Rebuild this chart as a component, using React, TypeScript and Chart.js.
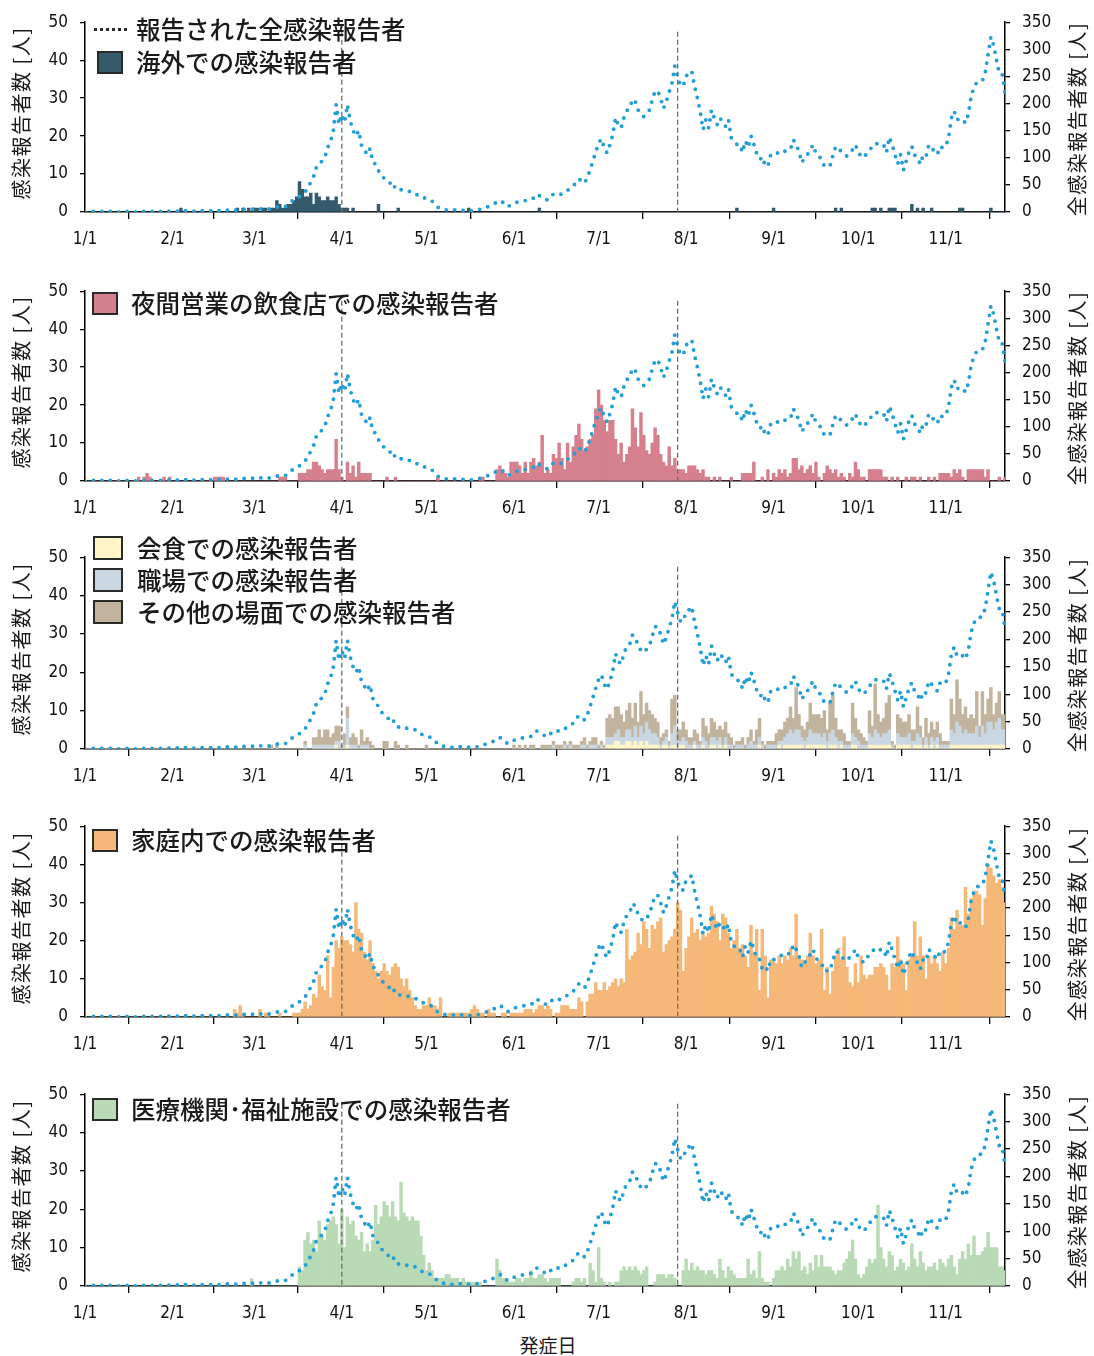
import React, { useEffect, useRef } from "react";
import { Chart, registerables } from "chart.js";
Chart.register(...registerables);

// ---- categories: day index counted from 1/1 (2020), 1/1 .. 11/22
const dayIndex: number[] = Array.from({ length: 327 }, (_, i) => i);
const monthStarts = [0, 31, 60, 91, 121, 152, 182, 213, 244, 274, 305];
const monthLabels = ["1/1", "2/1", "3/1", "4/1", "5/1", "6/1", "7/1", "8/1", "9/1", "10/1", "11/1"];
const markerDays = [91, 210];

// ---- all reported cases (right axis)
const total = [
  0,0,0,1,0,0,1,0,0,1, 0,1,0,0,1,1,2,1,0,1, 2,1,1,2,1,2,1,1,2,2, 1,
  2,1,2,2,1,3,2,2,1,2, 3,2,2,3,2,3,3,2,3,4, 3,4,3,4,4,5,4,4,5,
  5,4,6,5,6,5,7,8,9,10, 11,10,14,19,22,25,28,33,37,45, 55,65,83,86,95,101,119,130,150,198, 162,
  180,165,198,168,150,140,150,122,115,106, 117,92,88,76,68,62,58,53,56,42, 40,41,40,38,38,36,35,30,27,26,
  25,22,20,15,9,6,5,4,4,3, 4,3,4,3,4,3,2,3,4,5, 7,9,10,12,15,19,21,18,12,10, 14,
  16,18,19,20,21,22,23,26,33,30, 27,24,22,28,33,34,32,33,37,40, 44,47,55,61,57,53,63,78,94,111,
  127,135,118,109,124,142,174,160,155,175, 187,191,208,204,188,180,176,182,188,206, 223,223,209,191,204,221,238,269,249,233, 233,
  251,254,260,232,210,185,152,170,155,188, 173,161,173,167,158,170,137,130,125,125, 110,131,119,140,125,108,107,88,93,85, 106,
  105,108,110,114,112,116,116,133,124,112, 91,100,106,115,124,108,103,98,84,85, 85,104,121,118,111,106,103,110,115,124,
  109,104,100,108,115,120,127,125,123,124, 110,138,124,106,89,106,77,94,111,121, 105,100,88,105,102,124,118,112,106,121, 118,
  121,137,173,186,170,173,170,164,180,213, 230,239,240,242,257,290,323,307,280,255, 254,220,
];

const overseas = [
  0,0,0,0,0,0,0,0,0,0, 0,0,0,0,0,0,0,0,0,0, 0,0,0,0,0,0,0,0,0,0, 0,
  0,0,0,1,0,0,0,0,0,0, 0,0,0,0,0,0,0,0,0,0, 0,0,0,1,0,1,0,1,0,
  1,1,0,1,1,0,1,1,3,2, 1,1,2,2,3,4,8,6,4,4, 5,2,5,4,3,3,4,3,3,4, 2,
  1,1,1,0,1,0,0,0,0,0, 0,0,0,2,0,0,0,0,0,0, 1,0,0,0,0,0,0,0,0,0,
  0,0,0,0,0,0,0,0,0,0, 0,0,0,0,0,1,0,0,0,0, 0,0,0,0,0,0,0,0,0,0, 0,
  0,0,0,0,0,0,0,0,0,1, 0,0,0,0,0,0,0,0,0,0, 0,0,0,0,0,0,0,0,0,0,
  0,0,0,0,0,0,0,0,0,0, 0,0,0,0,0,0,0,0,0,0, 0,0,0,0,0,0,0,0,0,0, 0,
  0,0,0,0,0,0,0,0,0,0, 0,0,0,0,0,0,0,0,1,0, 0,0,0,0,0,0,0,0,0,0, 0,
  1,0,0,0,0,0,0,0,0,0, 0,0,0,0,0,0,0,0,0,0, 0,0,1,0,1,0,0,0,0,0,
  0,0,0,0,0,1,1,0,1,0, 0,1,1,1,0,0,0,0,0,2, 0,1,0,1,0,0,1,0,0,0, 0,
  0,0,0,0,0,1,1,0,0,0, 0,0,0,0,0,0,1,0,0,0, 0,0,
];

const nightlife = [
  0,0,0,0,0,0,0,0,0,0, 0,0,0,0,0,0,0,0,0,1, 0,1,2,1,0,0,0,0,1,0, 1,
  0,0,0,0,0,0,0,0,0,0, 0,0,0,0,0,1,1,1,1,0, 0,0,0,0,0,0,0,0,0,
  0,0,0,0,0,0,0,0,0,1, 1,1,0,0,0,0,2,2,2,3, 3,5,5,4,3,2,3,3,3,11, 3,
  1,0,5,2,4,1,5,2,2,2, 2,0,0,0,0,0,1,0,0,1, 0,0,0,0,0,0,0,0,0,0,
  0,0,0,0,1,0,0,0,0,0, 0,0,0,0,0,0,0,0,0,1, 1,0,0,0,0,3,4,3,2,1, 5,
  5,5,4,2,5,2,5,6,4,5, 12,2,3,2,7,6,10,6,3,10, 5,9,12,15,11,8,9,11,12,19,
  24,20,16,13,16,16,11,7,10,5, 7,9,19,14,9,18,12,8,7,10, 14,12,7,5,4,9,4,6,3,3, 3,
  2,4,4,4,3,2,3,1,1,0, 1,0,1,0,0,0,1,0,0,0, 2,2,2,2,5,0,0,1,0,3, 0,
  2,1,3,2,3,1,2,6,6,3, 4,2,3,4,2,5,1,0,2,4, 3,2,3,1,2,1,0,2,1,5,
  3,1,1,0,3,3,3,3,3,1, 1,0,1,0,1,0,0,1,0,1, 1,0,1,0,0,1,0,1,0,2, 2,
  2,2,1,3,2,3,1,0,3,3, 3,3,3,3,1,3,0,0,0,1, 0,1,
];

const dining = [
  0,0,0,0,0,0,0,0,0,0, 0,0,0,0,0,0,0,0,0,0, 0,0,0,0,0,0,0,0,0,0, 0,
  0,0,0,0,0,0,0,0,0,0, 0,0,0,0,0,0,0,0,0,0, 0,0,0,0,0,0,0,0,0,
  0,0,0,0,0,0,0,0,0,0, 0,0,0,0,0,0,0,0,0,0, 0,0,0,0,0,0,0,0,0,1, 0,
  0,0,1,0,0,0,0,0,0,0, 0,0,0,0,0,0,0,0,0,0, 0,0,0,0,0,0,0,0,0,0,
  0,0,0,0,0,0,0,0,0,0, 0,0,0,0,0,0,0,0,0,0, 0,0,0,0,0,0,0,0,0,0, 0,
  0,0,0,0,0,0,0,0,0,0, 0,0,0,0,0,0,0,0,0,0, 0,0,0,0,0,0,0,0,0,0,
  0,0,0,1,1,1,2,2,1,1, 2,2,1,2,1,2,1,2,1,1, 1,1,0,1,1,0,1,1,0,1, 1,
  0,0,0,1,0,0,1,0,0,1, 1,0,1,0,1,0,0,0,0,0, 0,0,0,0,0,0,1,0,0,0, 0,
  0,0,1,0,1,1,1,1,1,1, 1,0,1,1,1,1,1,1,1,0, 1,1,1,0,1,0,0,0,1,1,
  0,0,0,0,1,1,1,1,1,1, 1,1,0,0,1,1,1,1,1,0, 1,1,1,0,1,0,1,0,1,0, 0,
  0,0,1,1,1,1,1,1,1,1, 1,1,1,1,1,1,1,1,1,1, 1,1,
];

const workplace = [
  0,0,0,0,0,0,0,0,0,0, 0,0,0,0,0,0,0,0,0,0, 0,0,0,0,0,0,0,0,0,0, 0,
  0,0,0,0,0,0,0,0,0,0, 0,0,0,0,0,0,0,0,0,0, 0,0,0,0,0,0,0,0,0,
  0,0,0,0,0,0,0,0,0,0, 0,0,0,0,0,0,0,0,1,0, 0,1,1,1,1,1,1,1,1,1, 2,
  0,1,7,1,1,1,0,1,1,1, 0,0,0,0,0,0,0,0,0,0, 0,0,0,0,0,0,0,0,0,0,
  0,0,0,0,0,0,0,0,0,0, 0,0,0,0,0,0,0,0,0,0, 0,0,0,0,0,0,0,0,0,0, 0,
  0,0,0,0,0,0,0,0,0,0, 0,0,0,0,1,0,0,0,1,0, 1,0,0,0,1,1,0,1,1,1,
  0,1,0,2,2,2,2,3,2,2, 3,3,2,4,2,4,3,5,4,3, 3,2,1,1,2,1,3,5,2,1, 2,
  2,1,1,1,1,1,2,2,1,2, 2,2,2,1,2,1,1,0,1,1, 1,0,1,2,1,1,2,1,0,1, 1,
  1,1,1,2,2,3,4,3,4,4, 2,2,2,4,3,3,3,2,3,2, 3,4,2,2,1,1,1,1,3,2,
  2,1,1,1,3,2,4,3,2,3, 3,4,1,0,3,2,2,2,3,2, 1,3,2,1,2,1,2,2,2,1, 1,
  1,1,4,3,6,5,3,4,3,3, 3,5,2,5,3,6,6,4,6,7, 4,4,
];

const otherPlaces = [
  0,0,0,0,0,0,0,0,0,0, 0,0,0,0,0,0,0,0,0,0, 0,0,0,0,0,0,0,0,0,0, 0,
  0,0,0,0,0,0,0,0,0,0, 0,0,0,0,0,0,0,0,0,0, 0,0,0,0,0,0,0,0,0,
  0,0,0,0,0,0,1,0,1,0, 0,0,0,0,0,0,0,0,1,0, 0,2,2,4,2,4,4,2,3,4, 4,
  1,3,3,2,3,2,1,4,1,2, 2,1,0,0,0,2,2,0,0,2, 1,0,0,1,0,0,0,0,0,0,
  1,0,0,0,0,0,0,0,0,0, 0,0,0,0,0,0,0,0,0,0, 0,0,0,0,0,0,0,0,0,0, 0,
  1,0,1,0,1,0,1,1,0,0, 1,1,1,1,1,1,1,1,1,1, 1,1,1,1,1,2,1,1,2,2,
  1,1,1,5,6,5,7,6,6,4, 5,7,5,6,4,9,5,5,5,5, 4,4,2,2,2,1,9,8,3,3, 4,
  3,2,2,3,3,1,5,4,3,5, 4,3,3,4,4,3,2,1,1,1, 2,1,2,3,1,4,5,1,1,1, 1,
  1,3,3,3,4,4,6,4,11,4, 3,3,4,7,5,5,5,5,6,3, 8,9,5,3,3,3,1,1,8,5,
  3,3,2,1,6,3,12,5,4,4, 8,9,1,1,5,5,4,4,5,3, 3,7,3,2,5,3,4,3,4,3, 1,
  1,1,8,5,11,7,5,6,4,5, 4,9,3,9,5,6,9,4,5,7, 4,4,
];

const household = [
  0,0,0,0,0,0,0,0,0,0, 0,0,0,0,0,0,0,0,0,0, 0,0,0,0,0,0,0,0,0,0, 0,
  0,0,0,0,0,0,0,0,0,0, 0,0,0,0,0,0,0,0,0,0, 0,0,2,1,3,1,0,0,0,
  0,0,2,0,1,1,0,0,0,1, 0,0,0,0,1,1,1,2,4,2, 3,6,5,11,8,7,16,5,13,20, 18,
  21,20,20,19,17,30,23,22,17,15, 20,14,12,10,12,14,12,11,13,14, 13,10,8,10,7,5,3,2,2,3,
  3,5,3,3,2,5,0,0,1,1, 1,1,1,1,1,1,2,3,2,1, 1,0,2,1,1,0,0,1,1,0, 1,
  1,1,1,1,2,2,2,1,2,3, 3,2,3,2,0,1,1,3,3,3, 2,2,2,5,4,0,4,6,6,9,
  7,7,9,7,8,9,10,8,10,9, 23,15,16,17,22,19,25,23,18,24, 23,25,26,17,19,20,21,23,30,28, 12,
  18,21,26,22,23,20,22,21,22,29, 27,25,20,27,26,22,18,20,23,18, 19,16,13,24,17,23,7,23,16,5, 15,
  15,14,16,14,16,15,18,16,27,16, 15,14,16,22,16,14,15,23,7,13, 6,12,16,18,15,21,13,9,8,14,
  9,16,11,10,11,11,13,13,14,13, 11,7,14,13,21,15,14,7,15,16, 25,16,21,16,10,16,14,16,14,12, 17,
  14,18,26,23,28,24,24,34,27,31, 33,33,32,24,31,40,39,37,35,36, 34,30,
];

const medical = [
  0,0,0,0,0,0,0,0,0,0, 0,0,0,0,0,0,0,0,0,0, 0,0,0,0,0,0,0,0,0,0, 0,
  0,0,0,0,0,0,0,0,0,0, 0,0,0,0,0,0,0,0,0,0, 0,0,0,0,0,0,0,0,2,
  0,0,0,0,0,0,0,0,0,0, 0,0,0,0,0,0,5,4,12,14, 11,12,9,17,13,12,16,17,18,16, 11,
  20,10,18,16,17,13,12,14,9,11, 9,12,21,16,18,22,21,18,22,18, 17,27,19,18,17,18,17,17,13,8,
  4,6,4,2,2,2,2,3,3,2, 2,2,1,2,1,1,1,1,1,1, 0,0,0,0,0,7,4,2,2,1, 1,
  1,2,2,1,2,2,4,2,2,3, 3,2,1,2,2,2,2,0,0,0, 0,1,2,2,1,2,0,6,4,1,
  10,2,1,0,1,0,1,1,4,5, 4,5,4,5,4,3,4,5,0,0, 1,3,3,3,2,3,3,2,0,0, 4,
  7,4,6,4,5,4,4,3,4,4, 3,2,7,4,2,5,4,3,2,2, 2,2,7,3,4,2,9,2,1,1, 0,
  2,4,4,5,4,7,5,9,7,9, 4,5,3,6,4,8,5,8,5,5, 5,4,3,4,4,6,7,9,12,7,
  3,2,3,5,7,6,7,21,10,7, 5,9,8,4,5,7,6,4,5,11, 7,5,9,6,4,5,5,6,4,7, 6,
  5,7,8,5,3,7,9,7,11,8, 13,8,8,9,10,14,10,10,10,5, 5,4,
];

const JP = "'Noto Sans CJK JP', 'Noto Sans', sans-serif";
const NUM = "'Liberation Sans Narrow', 'Arial Narrow', 'DejaVu Sans Condensed', 'Liberation Sans', sans-serif";
const LINE_BLUE = "#249fd6";
const C_OVERSEAS = "#345a6b";
const C_NIGHT = "#d7808d";
const C_DINING = "#fff5c8";
const C_WORK = "#c9d7e3";
const C_OTHER = "#c2b39d";
const C_HOME = "#f6b878";
const C_MED = "#b8dab4";

type BarSeries = { data: number[]; color: string };

const markerPlugin = {
  id: "markers",
  afterDatasetsDraw(chart: any) {
    const { ctx, chartArea, scales } = chart;
    ctx.save();
    ctx.strokeStyle = "#6e6e6e";
    ctx.lineWidth = 1.3;
    ctx.setLineDash([5, 3]);
    markerDays.forEach((d) => {
      const x = scales.x.getPixelForValue(d);
      ctx.beginPath();
      ctx.moveTo(x, scales.y.getPixelForValue(47.5));
      ctx.lineTo(x, chartArea.bottom);
      ctx.stroke();
    });
    ctx.restore();
  },
};

function Panel({ top, plotH, bars }: { top: number; plotH: number; bars: BarSeries[] }) {
  const ref = useRef<HTMLCanvasElement>(null);
  const H = 18 + plotH + 45;
  useEffect(() => {
    const tickFont = { family: NUM, size: 17 };
    const chart = new Chart(ref.current as HTMLCanvasElement, {
      type: "bar",
      data: {
        labels: dayIndex,
        datasets: [
          {
            type: "line",
            data: total,
            yAxisID: "y1",
            borderColor: LINE_BLUE,
            borderWidth: 3.9,
            borderDash: [0, 8.5],
            borderCapStyle: "round",
            borderJoinStyle: "round",
            pointRadius: 0,
            fill: false,
            tension: 0,
            order: 0,
          } as any,
          ...bars.map((b) => ({
            type: "bar",
            data: b.data,
            yAxisID: "y",
            backgroundColor: b.color,
            borderWidth: 0,
            barPercentage: 1,
            categoryPercentage: 1,
            order: 1,
          })),
        ],
      },
      options: {
        responsive: false,
        animation: false,
        events: [],
        layout: { padding: { top: 18, left: 0, right: 0, bottom: 0 } },
        plugins: { legend: { display: false }, tooltip: { enabled: false } },
        scales: {
          x: {
            type: "linear",
            min: 0,
            max: 326,
            stacked: true,
            offset: false,
            grid: { drawOnChartArea: false, drawTicks: true, tickLength: 7, color: "#000", lineWidth: 1.3 },
            border: { display: true, color: "#000", width: 1.5 },
            ticks: {
              autoSkip: false,
              maxRotation: 0,
              padding: 10,
              color: "#111",
              font: tickFont,
              callback: (v: any) => {
                const i = monthStarts.indexOf(Number(v));
                return i >= 0 ? monthLabels[i] : "";
              },
            },
            afterBuildTicks: (s: any) => {
              s.ticks = monthStarts.map((v) => ({ value: v }));
            },
            afterFit: (s: any) => {
              s.height = 45;
            },
          },
          y: {
            type: "linear",
            position: "left",
            min: 0,
            max: 50,
            stacked: true,
            grid: { drawOnChartArea: false, drawTicks: true, tickLength: 5, color: "#000", lineWidth: 1.3 },
            border: { display: true, color: "#000", width: 1.5 },
            ticks: { stepSize: 10, padding: 12, color: "#111", font: tickFont },
            afterFit: (s: any) => {
              s.width = 85;
            },
          },
          y1: {
            type: "linear",
            position: "right",
            min: 0,
            max: 350,
            grid: { drawOnChartArea: false, drawTicks: true, tickLength: 5, color: "#000", lineWidth: 1.3 },
            border: { display: true, color: "#000", width: 1.5 },
            ticks: { stepSize: 50, padding: 12, color: "#111", font: tickFont },
            afterFit: (s: any) => {
              s.width = 89;
            },
          },
        },
      } as any,
      plugins: [markerPlugin],
    });
    return () => chart.destroy();
  }, []);
  return (
    <canvas
      ref={ref}
      width={1094}
      height={H}
      style={{ position: "absolute", left: 0, top: top - 18, width: 1094, height: H }}
    />
  );
}

const legendText = (left: number, cy: number, text: string) => (
  <div
    style={{
      position: "absolute",
      left,
      top: cy - 14,
      fontFamily: JP,
      fontSize: 24.5,
      lineHeight: "28px",
      fontWeight: 500,
      color: "#1a1a1a",
      whiteSpace: "nowrap",
    }}
  >
    {text}
  </div>
);

const legendBox = (left: number, top: number, w: number, h: number, color: string) => (
  <div
    style={{
      position: "absolute",
      left,
      top,
      width: w,
      height: h,
      background: color,
      border: "2px solid #2a2a2a",
      boxSizing: "border-box",
    }}
  />
);

const vTitle = (cx: number, cy: number, text: string) => (
  <div
    style={{
      position: "absolute",
      left: cx,
      top: cy,
      transform: "translate(-50%, -50%) rotate(-90deg)",
      fontFamily: JP,
      fontSize: 20,
      lineHeight: "22px",
      color: "#1a1a1a",
      whiteSpace: "nowrap",
      letterSpacing: 1.5,
    }}
  >
    {text}
  </div>
);

const panels = [
  { top: 18, plotH: 194, bars: [{ data: overseas, color: C_OVERSEAS }] },
  { top: 287, plotH: 194, bars: [{ data: nightlife, color: C_NIGHT }] },
  {
    top: 553,
    plotH: 196,
    bars: [
      { data: dining, color: C_DINING },
      { data: workplace, color: C_WORK },
      { data: otherPlaces, color: C_OTHER },
    ],
  },
  { top: 822, plotH: 195, bars: [{ data: household, color: C_HOME }] },
  { top: 1090, plotH: 196, bars: [{ data: medical, color: C_MED }] },
];

export default function App() {
  return (
    <div style={{ position: "absolute", left: 0, top: 0, width: 1094, height: 1356, background: "#fff", overflow: "hidden" }}>
      {panels.map((p, i) => (
        <Panel key={i} top={p.top} plotH={p.plotH} bars={p.bars} />
      ))}
      {panels.map((p, i) => (
        <React.Fragment key={"t" + i}>
          {vTitle(21, p.top + p.plotH / 2 - 2, "感染報告者数 [人]")}
          {vTitle(1077, p.top + p.plotH / 2 + 4, "全感染報告者数 [人]")}
        </React.Fragment>
      ))}

      {/* panel 1 legend */}
      <div style={{ position: "absolute", left: 94, top: 28, width: 33, borderTop: "3px dotted #2a2a2a" }} />
      {legendText(136, 29, "報告された全感染報告者")}
      {legendBox(97, 51, 26, 23, C_OVERSEAS)}
      {legendText(136, 62, "海外での感染報告者")}

      {/* panel 2 legend */}
      {legendBox(92, 292, 26, 23, C_NIGHT)}
      {legendText(131, 303, "夜間営業の飲食店での感染報告者")}

      {/* panel 3 legend */}
      {legendBox(93, 536, 30, 24, C_DINING)}
      {legendText(137, 548, "会食での感染報告者")}
      {legendBox(93, 568, 30, 24, C_WORK)}
      {legendText(137, 580, "職場での感染報告者")}
      {legendBox(93, 600, 30, 24, C_OTHER)}
      {legendText(137, 612, "その他の場面での感染報告者")}

      {/* panel 4 legend */}
      {legendBox(92, 829, 26, 23, C_HOME)}
      {legendText(131, 840, "家庭内での感染報告者")}

      {/* panel 5 legend */}
      {legendBox(92, 1098, 26, 23, C_MED)}
      {legendText(131, 1109, "医療機関･福祉施設での感染報告者")}

      <div
        style={{
          position: "absolute",
          left: 548,
          top: 1345,
          transform: "translate(-50%, -50%)",
          fontFamily: JP,
          fontSize: 19,
          lineHeight: "22px",
          color: "#1a1a1a",
          whiteSpace: "nowrap",
        }}
      >
        発症日
      </div>
    </div>
  );
}
